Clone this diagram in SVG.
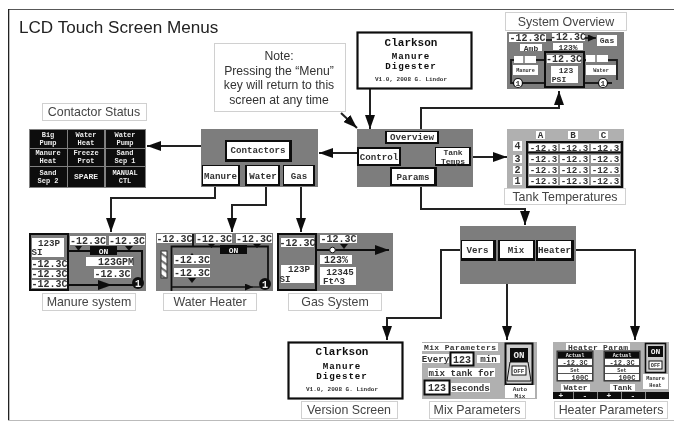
<svg xmlns="http://www.w3.org/2000/svg" width="674" height="421" viewBox="0 0 674 421">
<style>
text{font-family:"Liberation Sans",Arial,sans-serif;fill:#333}
.title{font-size:17.1px;fill:#222}
.cap{font-size:12.4px;text-anchor:middle;fill:#444}
.note{font-size:12.2px;text-anchor:middle;fill:#333}
.capbox{fill:#fff;stroke:#d0d0d0;stroke-width:1}
.m{font-family:"Liberation Mono","DejaVu Sans Mono",monospace;font-weight:700;text-anchor:middle;fill:#333}
.f9{font-size:9.2px}.f10{font-size:10px}.f8{font-size:8px}.f7{font-size:7px}.f6{font-size:6px}.f5{font-size:5.2px}.f11{font-size:11px}
.big{font-size:9.2px;letter-spacing:.9px;fill:#111}
.w{fill:#eee!important}
.g{fill:#7d7d7d}.lg{fill:#b0b0b0}
.wh{fill:#fff}.bk{fill:#0c0c0c}
.out{fill:none;stroke:#111;stroke-width:2.2}
.ln{fill:none;stroke:#1c1c1c;stroke-width:1.8}
.conn{fill:none;stroke:#222;stroke-width:2;marker-end:url(#arr)}
</style>
<defs>
<filter id="soft" x="0" y="0" width="100%" height="100%"><feGaussianBlur stdDeviation="0.4"/></filter>
<marker id="arr" markerUnits="userSpaceOnUse" markerWidth="14" markerHeight="10" viewBox="0 0 14 10" refX="14" refY="5" orient="auto"><path d="M0 0L14 5L0 10Z" fill="#111"/></marker>
<marker id="sm" markerUnits="userSpaceOnUse" markerWidth="8" markerHeight="7" viewBox="0 0 8 7" refX="8" refY="3.5" orient="auto"><path d="M0 0L8 3.5L0 7Z" fill="#111"/></marker>
<pattern id="hatch" width="6" height="6" patternUnits="userSpaceOnUse" patternTransform="rotate(35)"><rect width="6" height="6" fill="#fff"/><rect width="6" height="2.2" fill="#777"/></pattern>
</defs>
<rect width="674" height="421" fill="#fff"/>
<g filter="url(#soft)">
<path d="M674 9H8.500V421" fill="none" stroke="#222" stroke-width="1.600"/>
<path d="M8 420.500H674" fill="none" stroke="#bbb" stroke-width="1"/>
<text class="title" x="19" y="33">LCD Touch Screen Menus</text>

<g id="connectors">
<path class="conn" d="M201 146H147"/>
<path class="conn" d="M357 153H319"/>
<path class="conn" d="M215 187V198H111V232"/>
<path class="conn" d="M266 187V205H232V232"/>
<path class="conn" d="M301 187V232"/>
<path class="conn" d="M370 89V129"/>
<path class="conn" d="M341 113L357 128"/>
<path class="conn" d="M421 129V108H559V91"/>
<path class="conn" d="M473 157H507"/>
<path class="conn" d="M421 187V209H525V225"/>
<path class="conn" d="M461 250H441V318H387V340"/>
<path class="conn" d="M507 284V340"/>
<path class="conn" d="M572 250H635V340"/>
</g>

<g id="note">
<rect class="capbox" x="214.500" y="43.500" width="131" height="68"/>
<text class="note" x="279" y="60">Note:</text>
<text class="note" x="279" y="75">Pressing the “Menu”</text>
<text class="note" x="279" y="89">key will return to this</text>
<text class="note" x="279" y="104">screen at any time</text>
</g>

<g id="contactor-status">
<rect class="capbox" x="42.500" y="103.500" width="104" height="17"/>
<text class="cap" x="94" y="116">Contactor Status</text>
<rect x="29" y="129" width="117" height="59" fill="#808080"/>
<rect class="bk" x="30" y="130" width="37" height="18"/><rect class="bk" x="68" y="130" width="36" height="18"/><rect class="bk" x="106" y="130" width="39" height="18"/>
<rect class="bk" x="30" y="149" width="37" height="17"/><rect class="bk" x="68" y="149" width="36" height="17"/><rect class="bk" x="106" y="149" width="39" height="17"/>
<rect class="bk" x="30" y="167" width="37" height="20"/><rect class="bk" x="68" y="167" width="36" height="20"/><rect class="bk" x="106" y="167" width="39" height="20"/>
<text class="m f7 w" x="48" y="137">Big</text><text class="m f7 w" x="48" y="145">Pump</text>
<text class="m f7 w" x="86" y="137">Water</text><text class="m f7 w" x="86" y="145">Heat</text>
<text class="m f7 w" x="125" y="137">Water</text><text class="m f7 w" x="125" y="145">Pump</text>
<text class="m f7 w" x="48" y="155">Manure</text><text class="m f7 w" x="48" y="163">Heat</text>
<text class="m f7 w" x="86" y="155">Freeze</text><text class="m f7 w" x="86" y="163">Prot</text>
<text class="m f7 w" x="125" y="155">Sand</text><text class="m f7 w" x="125" y="163">Sep 1</text>
<text class="m f7 w" x="48" y="174.500">Sand</text><text class="m f7 w" x="48" y="182.500">Sep 2</text>
<text class="m f8 w" x="86" y="179">SPARE</text>
<text class="m f7 w" x="125" y="174.500">MANUAL</text><text class="m f7 w" x="125" y="182.500">CTL</text>
</g>

<g id="contactors-menu">
<rect class="g" x="201" y="129" width="117" height="58"/>
<rect class="bk" x="225" y="140" width="67" height="22"/><rect class="wh" x="227" y="142" width="62" height="17"/>
<text class="m f9" x="258" y="153">Contactors</text>
<rect class="bk" x="202" y="165" width="38" height="21"/><rect class="wh" x="203" y="166" width="35" height="18"/>
<text class="m f9" x="220.500" y="179">Manure</text>
<rect class="bk" x="245" y="165" width="35" height="21"/><rect class="wh" x="247" y="166" width="31" height="18"/>
<text class="m f9" x="263" y="179">Water</text>
<rect class="bk" x="283" y="165" width="32" height="21"/><rect class="wh" x="284" y="166" width="29" height="18"/>
<text class="m f9" x="299" y="179">Gas</text>
</g>

<g id="splash">
<rect class="wh" x="357.500" y="32.500" width="114" height="56"/>
<rect class="out" x="357.500" y="32.500" width="114" height="56"/>
<text class="m f11" x="411" y="46" style="fill:#111">Clarkson</text>
<text class="m big" x="411" y="58.500">Manure</text>
<text class="m big" x="411" y="68.500">Digester</text>
<text class="m f6" x="411" y="81">V1.0, 2008 G. Lindor</text>
</g>

<g id="main-menu">
<rect class="g" x="357" y="129" width="116" height="58"/>
<rect class="bk" x="385" y="131" width="54" height="13"/><rect class="wh" x="387" y="132" width="50" height="10"/>
<text class="m f9" x="412" y="140">Overview</text>
<rect class="bk" x="357" y="147" width="44" height="19"/><rect class="wh" x="359" y="149" width="40" height="15"/>
<text class="m f9" x="379" y="159.500">Control</text>
<rect class="bk" x="435" y="147" width="36" height="19"/><rect class="wh" x="436" y="148" width="33" height="16"/>
<text class="m f8" x="453" y="154.500">Tank</text><text class="m f8" x="453" y="163.500">Temps</text>
<rect class="bk" x="390" y="167" width="47" height="19"/><rect class="wh" x="392" y="169" width="42" height="15"/>
<text class="m f9" x="413" y="180">Params</text>
</g>

<g id="system-overview">
<rect class="capbox" x="505.500" y="12.500" width="121" height="18"/>
<text class="cap" x="566" y="26">System Overview</text>
<rect class="g" x="507" y="32" width="117" height="57"/>
<rect class="wh" x="509" y="34" width="37" height="8"/><text class="m f10" x="527.500" y="41">-12.3C</text>
<rect class="wh" x="520" y="44" width="22" height="7"/><text class="m f8" x="531" y="50.500">Amb</text>
<rect class="wh" x="552" y="33" width="33" height="8"/><text class="m f10" x="568" y="40">-12.3C</text>
<rect class="wh" x="553" y="43" width="30" height="7"/><text class="m f8" x="568" y="49.500">123%</text>
<path class="ln" d="M546 40H552"/>
<path class="ln" d="M585 38H596" style="marker-end:url(#sm)"/>
<rect class="wh" x="597" y="35" width="20" height="11"/><text class="m f8" x="607" y="43">Gas</text>
<path class="ln" d="M545 60H511V83H546M584 60H617V80M584 83H612"/>
<rect class="wh" x="514" y="56" width="22" height="7"/><path d="M524 56V63" stroke="#333"/>
<rect class="wh" x="513" y="65" width="25" height="10"/><text class="m f5" x="525.500" y="72">Manure</text>
<circle cx="518" cy="83" r="4.500" fill="#fff" stroke="#111" stroke-width="1.200"/><text class="m f8" x="518" y="86">1</text>
<rect x="545" y="52" width="39" height="35" fill="#7d7d7d" stroke="#111" stroke-width="2"/>
<rect class="wh" x="547" y="55" width="34" height="8"/><text class="m f10" x="564" y="62">-12.3C</text>
<rect class="wh" x="551" y="66" width="27" height="17"/><text class="m f8" x="566" y="73">123</text><text class="m f8" x="559" y="82">PSI</text>
<rect class="wh" x="586" y="55" width="22" height="7"/><path d="M596 55V62" stroke="#333"/>
<rect class="wh" x="586" y="65" width="30" height="10"/><text class="m f5" x="601" y="72">Water</text>
<circle cx="603" cy="83" r="4.500" fill="#fff" stroke="#111" stroke-width="1.200"/><text class="m f8" x="603" y="86">1</text>
</g>

<g id="tank-temperatures">
<rect class="lg" x="507" y="129" width="117" height="59"/>
<rect class="wh" x="536" y="131" width="9" height="8"/><text class="m f9" x="540.500" y="138">A</text>
<rect class="wh" x="568" y="131" width="10" height="8"/><text class="m f9" x="573" y="138">B</text>
<rect class="wh" x="599" y="131" width="9" height="8"/><text class="m f9" x="603.500" y="138">C</text>
<rect class="wh" x="513" y="141" width="9" height="10"/><text class="m f10" x="517.500" y="149">4</text>
<rect class="wh" x="513" y="155" width="9" height="8"/><text class="m f10" x="517.500" y="162">3</text>
<rect class="wh" x="513" y="166" width="9" height="8"/><text class="m f10" x="517.500" y="173">2</text>
<rect class="wh" x="513" y="177" width="9" height="8"/><text class="m f10" x="517.500" y="184">1</text>
<rect x="527" y="142" width="95" height="45" fill="#999" stroke="#111" stroke-width="2"/>
<path d="M527 152.500H622" stroke="#111" stroke-width="2"/>
<rect class="wh" x="529" y="144" width="29" height="7"/><text class="m f9" x="543.500" y="150.500">-12.3</text>
<rect class="wh" x="560" y="144" width="29" height="7"/><text class="m f9" x="574.500" y="150.500">-12.3</text>
<rect class="wh" x="591" y="144" width="29" height="7"/><text class="m f9" x="605.500" y="150.500">-12.3</text>
<rect class="wh" x="529" y="155" width="29" height="8"/><text class="m f9" x="543.500" y="162">-12.3</text>
<rect class="wh" x="560" y="155" width="29" height="8"/><text class="m f9" x="574.500" y="162">-12.3</text>
<rect class="wh" x="591" y="155" width="29" height="8"/><text class="m f9" x="605.500" y="162">-12.3</text>
<rect class="wh" x="529" y="166" width="29" height="8"/><text class="m f9" x="543.500" y="173">-12.3</text>
<rect class="wh" x="560" y="166" width="29" height="8"/><text class="m f9" x="574.500" y="173">-12.3</text>
<rect class="wh" x="591" y="166" width="29" height="8"/><text class="m f9" x="605.500" y="173">-12.3</text>
<rect class="wh" x="529" y="177" width="29" height="8"/><text class="m f9" x="543.500" y="184">-12.3</text>
<rect class="wh" x="560" y="177" width="29" height="8"/><text class="m f9" x="574.500" y="184">-12.3</text>
<rect class="wh" x="591" y="177" width="29" height="8"/><text class="m f9" x="605.500" y="184">-12.3</text>
<rect class="capbox" x="504.500" y="188.500" width="121" height="16"/>
<text class="cap" x="565" y="201">Tank Temperatures</text>
</g>

<g id="manure-system">
<rect class="g" x="29" y="233" width="117" height="58"/>
<path d="M68 251H142V285" fill="none" stroke="#111" stroke-width="2"/>
<path d="M68 285H112" fill="none" stroke="#111" stroke-width="2" style="marker-end:url(#arr)"/>
<path d="M112 285H134" fill="none" stroke="#111" stroke-width="2"/>
<rect x="30" y="234" width="38" height="56" class="g" stroke="#111" stroke-width="2"/>
<rect class="wh" x="32" y="238" width="32" height="19"/><text class="m f9" x="49" y="245.500">123P</text><text class="m f9" x="37" y="254.500">SI</text>
<rect class="wh" x="32" y="260" width="35" height="8"/><text class="m f10" x="49.500" y="267">-12.3C</text>
<rect class="wh" x="32" y="270" width="35" height="8"/><text class="m f10" x="49.500" y="277">-12.3C</text>
<rect class="wh" x="32" y="280" width="35" height="8"/><text class="m f10" x="49.500" y="287">-12.3C</text>
<rect class="wh" x="70" y="236" width="36" height="9"/><text class="m f10" x="88" y="244">-12.3C</text>
<rect class="wh" x="109" y="236" width="36" height="9"/><text class="m f10" x="127" y="244">-12.3C</text>
<path d="M75 246H82L78.500 251Z M125 246H133L129 251Z" fill="#111"/>
<rect class="bk" x="90" y="246" width="27" height="9"/><text class="m f8 w" x="103.500" y="253.500">ON</text>
<rect class="wh" x="86" y="257" width="47" height="9"/><text class="m f10" x="116" y="265">123GPM</text>
<rect class="wh" x="94" y="269" width="37" height="9"/><text class="m f10" x="112.500" y="277">-12.3C</text>
<circle cx="138" cy="283" r="6" fill="#111"/><text class="m f10 w" x="138" y="286.500">1</text>
<rect class="capbox" x="42.500" y="293.500" width="93" height="17"/>
<text class="cap" x="89" y="306">Manure system</text>
</g>

<g id="water-heater">
<rect class="g" x="156" y="233" width="117" height="58"/>
<path d="M171.500 291V246.500H268V284" fill="none" stroke="#111" stroke-width="1.800"/>
<path d="M171 287H253" fill="none" stroke="#111" stroke-width="1.300" style="marker-end:url(#sm)"/>
<path d="M253 287H262" stroke="#111" stroke-width="1.300"/>
<rect x="161" y="251" width="6" height="27" fill="url(#hatch)" stroke="#333" stroke-width="1"/>
<rect class="wh" x="157" y="234" width="35" height="9"/><text class="m f10" x="174.500" y="242">-12.3C</text>
<path d="M193 234V246" stroke="#111" stroke-width="1.800"/>
<rect class="wh" x="196" y="234" width="36" height="9"/><text class="m f10" x="214" y="242">-12.3C</text>
<rect class="wh" x="236" y="234" width="36" height="9"/><text class="m f10" x="254" y="242">-12.3C</text>
<path d="M208 244H215L211.500 248Z M253 244H261L257 248Z" fill="#111"/>
<rect class="bk" x="220" y="245" width="27" height="9"/><text class="m f8 w" x="233.500" y="252.500">ON</text>
<path d="M192 253L188 258H196Z M188 278H196L192 283Z" fill="#111"/>
<rect class="wh" x="174" y="255" width="36" height="9"/><text class="m f10" x="192" y="263">-12.3C</text>
<rect class="wh" x="174" y="268" width="36" height="9"/><text class="m f10" x="192" y="276">-12.3C</text>
<circle cx="265" cy="284" r="6" fill="#111"/><text class="m f10 w" x="265" y="287.500">1</text>
<rect class="capbox" x="163.500" y="293.500" width="93" height="17"/>
<text class="cap" x="210" y="306">Water Heater</text>
</g>

<g id="gas-system">
<rect class="g" x="277" y="233" width="116" height="58"/>
<path d="M316 250H389" fill="none" stroke="#111" stroke-width="1.800" style="marker-end:url(#arr)"/>
<rect x="278" y="234" width="38" height="56" class="g" stroke="#111" stroke-width="2"/>
<rect class="wh" x="281" y="238" width="33" height="9"/><text class="m f10" x="297.500" y="246">-12.3C</text>
<rect class="wh" x="281" y="265" width="33" height="18"/><text class="m f9" x="299" y="272">123P</text><text class="m f9" x="285" y="281.500">SI</text>
<rect class="wh" x="320" y="235" width="37" height="8"/><text class="m f10" x="338.500" y="242">-12.3C</text>
<path d="M340 244H348L344 249Z" fill="#111"/>
<circle cx="332.500" cy="250" r="2.800" fill="#fff" stroke="#111"/>
<rect class="wh" x="320" y="255" width="32" height="9"/><text class="m f10" x="336" y="263">123%</text>
<rect class="wh" x="320" y="267" width="36" height="18"/><text class="m f9" x="340" y="274.500">12345</text><text class="m f9" x="334" y="284">Ft^3</text>
<rect class="capbox" x="288.500" y="293.500" width="93" height="17"/>
<text class="cap" x="335" y="306">Gas System</text>
</g>

<g id="params-menu">
<rect class="g" x="460" y="226" width="116" height="58"/>
<rect class="bk" x="461" y="240" width="35" height="21"/><rect class="wh" x="462" y="241" width="31" height="17"/>
<text class="m f9" x="477.500" y="253">Vers</text>
<rect class="bk" x="498" y="240" width="37" height="21"/><rect class="wh" x="500" y="241" width="33" height="17"/>
<text class="m f9" x="516" y="253">Mix</text>
<rect class="bk" x="536" y="240" width="38" height="21"/><rect class="wh" x="538" y="241" width="33" height="17"/>
<text class="m f9" x="554.500" y="253">Heater</text>
</g>

<g id="version-screen">
<rect class="wh" x="288.500" y="342.500" width="114" height="56"/>
<rect class="out" x="288.500" y="342.500" width="114" height="56"/>
<text class="m f11" x="342" y="355" style="fill:#111">Clarkson</text>
<text class="m big" x="342" y="368.500">Manure</text>
<text class="m big" x="342" y="378.500">Digester</text>
<text class="m f6" x="342" y="391">V1.0, 2008 G. Lindor</text>
<rect class="capbox" x="301.500" y="401.500" width="96" height="17"/>
<text class="cap" x="349" y="414">Version Screen</text>
</g>

<g id="mix-parameters">
<rect class="lg" x="422" y="342" width="115" height="57"/>
<rect class="wh" x="422" y="343" width="76" height="8"/><text class="m f8" x="460" y="349.500" textLength="72">Mix Parameters</text>
<rect class="wh" x="422" y="354" width="27" height="9"/><text class="m f9" x="435.500" y="362">Every</text>
<rect class="wh" x="450.500" y="352.500" width="23" height="13" stroke="#111" stroke-width="2"/><text class="m f10" x="462" y="362.500">123</text>
<rect class="wh" x="477" y="355" width="23" height="8"/><text class="m f9" x="488.500" y="362">min</text>
<rect class="wh" x="428" y="368" width="67" height="9"/><text class="m f9" x="461.500" y="376">mix tank for</text>
<rect class="wh" x="424.500" y="380.500" width="25" height="14" stroke="#111" stroke-width="2"/><text class="m f10" x="437" y="391">123</text>
<rect class="wh" x="451" y="383" width="39" height="9"/><text class="m f9" x="470.500" y="391">seconds</text>
<rect x="505.500" y="343.500" width="27" height="41" fill="#ccc" stroke="#111" stroke-width="2"/>
<rect class="bk" x="510" y="348" width="18" height="14"/><text class="m f9 w" x="519" y="357.500">ON</text>
<path d="M510 362H528L531 381H507Z" fill="#ddd" stroke="#111"/>
<rect x="512" y="366" width="14" height="9" fill="#fff" stroke="#111"/><text class="m f6" x="519" y="373">OFF</text>
<rect class="wh" x="505" y="385" width="30" height="13"/>
<text class="m f6" x="520" y="390.500">Auto</text><text class="m f6" x="520" y="397.500">Mix</text>
<rect class="capbox" x="429.500" y="401.500" width="96" height="17"/>
<text class="cap" x="477" y="414">Mix Parameters</text>
</g>

<g id="heater-parameters">
<rect class="lg" x="553" y="342" width="116" height="57"/>
<rect class="wh" x="566" y="343" width="64" height="7"/><text class="m f8" x="598" y="349.500" textLength="60">Heater Param</text>
<rect x="557" y="351" width="36" height="30" fill="#555" stroke="#333"/>
<rect class="bk" x="558" y="352" width="34" height="6"/><text class="m f5 w" x="575" y="357">Actual</text>
<rect class="wh" x="558" y="359" width="34" height="6"/><text class="m f7" x="575" y="365">-12.3C</text>
<rect class="wh" x="558" y="367" width="34" height="6"/><text class="m f5" x="575" y="372">Set</text>
<rect class="wh" x="558" y="374" width="34" height="6"/><text class="m f7" x="580" y="380">100C</text>
<rect x="604" y="351" width="36" height="30" fill="#555" stroke="#333"/>
<rect class="bk" x="605" y="352" width="34" height="6"/><text class="m f5 w" x="622" y="357">Actual</text>
<rect class="wh" x="605" y="359" width="34" height="6"/><text class="m f7" x="622" y="365">-12.3C</text>
<rect class="wh" x="605" y="367" width="34" height="6"/><text class="m f5" x="622" y="372">Set</text>
<rect class="wh" x="605" y="374" width="34" height="6"/><text class="m f7" x="627" y="380">100C</text>
<rect class="wh" x="561" y="384" width="29" height="7"/><text class="m f8" x="575.500" y="390">Water</text>
<rect class="wh" x="610" y="384" width="25" height="7"/><text class="m f8" x="622.500" y="390">Tank</text>
<rect x="645.500" y="343.500" width="20" height="29" fill="#ccc" stroke="#111" stroke-width="1.600"/>
<rect class="bk" x="648" y="346" width="15" height="11"/><text class="m f8 w" x="655.500" y="354">ON</text>
<rect x="649" y="361" width="13" height="8" fill="#fff" stroke="#111"/><text class="m f5" x="655.500" y="367">OFF</text>
<rect class="wh" x="643" y="374" width="25" height="15"/>
<text class="m f5" x="655.500" y="380">Manure</text><text class="m f5" x="655.500" y="387">Heat</text>
<rect class="bk" x="553" y="392" width="116" height="7"/>
<path d="M573.500 392V399M597.500 392V399M621.500 392V399M645.500 392V399" stroke="#888"/>
<text class="m f8 w" x="561" y="398">+</text><text class="m f8 w" x="585" y="398">-</text><text class="m f8 w" x="609" y="398">+</text><text class="m f8 w" x="633" y="398">-</text>
<rect class="capbox" x="554.500" y="401.500" width="113" height="17"/>
<text class="cap" x="611" y="414">Heater Parameters</text>
</g>
</g>
</svg>
